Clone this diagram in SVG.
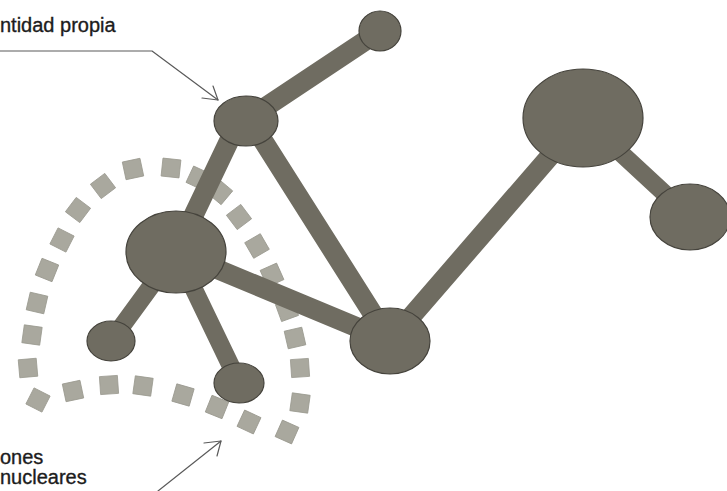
<svg xmlns="http://www.w3.org/2000/svg" xmlns:xlink="http://www.w3.org/1999/xlink" width="727" height="491" viewBox="0 0 727 491">
  <style>
    .bar { stroke: #6f6c61; stroke-width: 20; stroke-linecap: round; fill: none; }
    .bar-thin { stroke-width: 18; }
    .node { fill: #6f6c61; stroke: #45433c; stroke-width: 1.2; }
    .label { font-family: "Liberation Sans", Arial, sans-serif; font-size: 20px; fill: #1c1c1c; stroke: #1c1c1c; stroke-width: 0.35; }
    .pointer { fill: none; stroke: #5a5a5a; stroke-width: 1.2; stroke-linecap: round; stroke-linejoin: round; }
    .sq { fill: #a9a89e; stroke: #9a998f; stroke-width: 0.8; }
  </style>
  <defs>
    <rect id="sq" class="sq" x="-9" y="-9" width="18" height="18"/>
  </defs>
  <rect width="727" height="491" fill="#ffffff"/>

  <!-- dotted boundary (nucleus) -->
  <g id="nucleus-boundary">
    <use href="#sq" transform="translate(287,432) rotate(24)"/>
    <use href="#sq" transform="translate(300,403) rotate(8)"/>
    <use href="#sq" transform="translate(300,368) rotate(-4)"/>
    <use href="#sq" transform="translate(295,338) rotate(-13)"/>
    <use href="#sq" transform="translate(287,310) rotate(-20)"/>
    <use href="#sq" transform="translate(272,275) rotate(-24)"/>
    <use href="#sq" transform="translate(257,246) rotate(-30)"/>
    <use href="#sq" transform="translate(239,217) rotate(-37)"/>
    <use href="#sq" transform="translate(220,192) rotate(40)"/>
    <use href="#sq" transform="translate(198,178) rotate(25)"/>
    <use href="#sq" transform="translate(171,168) rotate(6)"/>
    <use href="#sq" transform="translate(133,169) rotate(-12)"/>
    <use href="#sq" transform="translate(103,186) rotate(-37)"/>
    <use href="#sq" transform="translate(78,210) rotate(37)"/>
    <use href="#sq" transform="translate(62,240) rotate(27)"/>
    <use href="#sq" transform="translate(47,270) rotate(22)"/>
    <use href="#sq" transform="translate(37,303) rotate(13)"/>
    <use href="#sq" transform="translate(32,335) rotate(8)"/>
    <use href="#sq" transform="translate(28,368) rotate(-5)"/>
    <use href="#sq" transform="translate(38,400) rotate(27)"/>
    <use href="#sq" transform="translate(73,391) rotate(-12)"/>
    <use href="#sq" transform="translate(109,385) rotate(-4)"/>
    <use href="#sq" transform="translate(143,386) rotate(8)"/>
    <use href="#sq" transform="translate(183,395) rotate(16)"/>
    <use href="#sq" transform="translate(217,407) rotate(22)"/>
    <use href="#sq" transform="translate(249,422) rotate(25)"/>
  </g>

  <!-- connectors -->
  <g id="connectors">
    <line class="bar" x1="380" y1="31" x2="246" y2="120"/>
    <line class="bar" x1="240" y1="118" x2="176" y2="252"/>
    <line class="bar" x1="250" y1="120" x2="390" y2="341"/>
    <line class="bar" x1="176" y1="252" x2="390" y2="341"/>
    <line class="bar bar-thin" x1="176" y1="252" x2="111" y2="341"/>
    <line class="bar bar-thin" x1="176" y1="252" x2="239" y2="383"/>
    <line class="bar" x1="390" y1="341" x2="583" y2="118"/>
    <line class="bar bar-thin" x1="583" y1="118" x2="690" y2="217"/>
  </g>

  <!-- nodes -->
  <g id="node-a"><ellipse class="node" cx="380" cy="31" rx="21" ry="20"/></g>
  <g id="node-b"><ellipse class="node" cx="246" cy="121" rx="32" ry="25"/></g>
  <g id="node-c"><ellipse class="node" cx="176" cy="252" rx="50" ry="41"/></g>
  <g id="node-d"><ellipse class="node" cx="111" cy="341" rx="24" ry="20"/></g>
  <g id="node-e"><ellipse class="node" cx="239" cy="383" rx="25" ry="20"/></g>
  <g id="node-f"><ellipse class="node" cx="390" cy="341" rx="40" ry="33"/></g>
  <g id="node-g"><ellipse class="node" cx="583" cy="118" rx="60" ry="49"/></g>
  <g id="node-h"><ellipse class="node" cx="690" cy="217" rx="40" ry="33"/></g>

  <!-- labels and pointers -->
  <g id="label-entidad">
    <text class="label" x="0" y="32">ntidad propia</text>
    <path class="pointer" d="M0,51 L152,51 L218,100"/>
    <path class="pointer" d="M213,86 L218,100 L202,98"/>
  </g>
  <g id="label-nucleares">
    <text class="label" x="0" y="464">ones</text>
    <text class="label" x="0" y="484">nucleares</text>
    <path class="pointer" d="M158,491 L221,441"/>
    <path class="pointer" d="M204,443 L221,441 L217,456"/>
  </g>
</svg>
